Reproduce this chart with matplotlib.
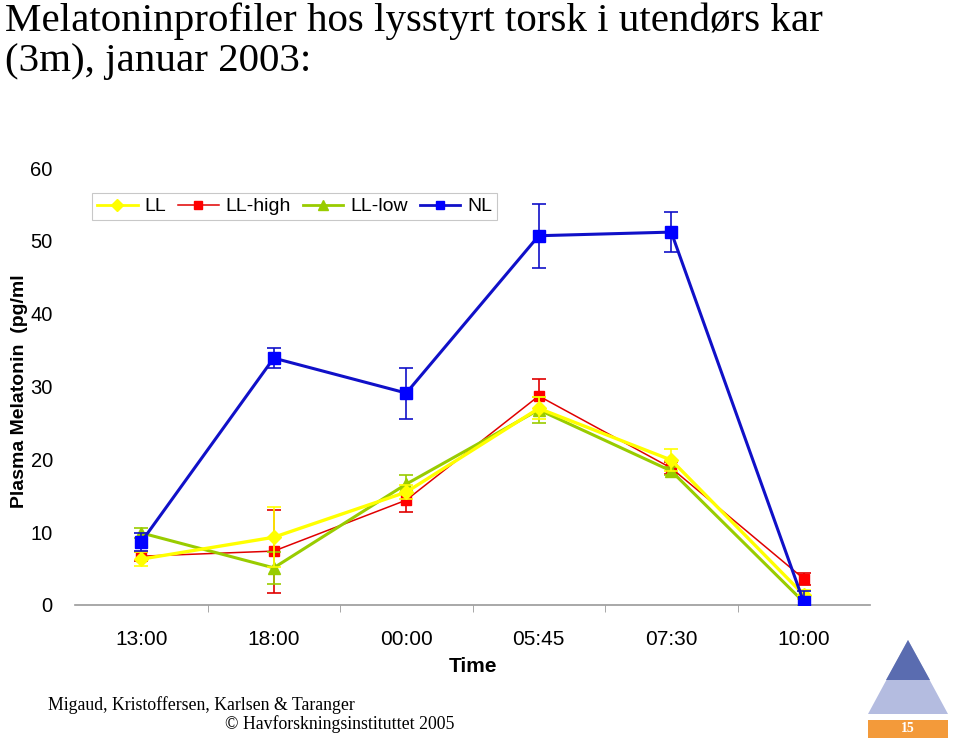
import matplotlib
matplotlib.use("Agg")
import matplotlib.pyplot as plt
import numpy as np
from matplotlib.patches import Polygon, Rectangle
from matplotlib.lines import Line2D

categories = ["13:00", "18:00", "00:00", "05:45", "07:30", "10:00"]
ll = [6.3, 9.3, 15.5, 27.0, 19.9, 1.4]
ll_err = [1.0, 4.1, 1.0, 1.5, 1.5, 0.6]
ll_high = [6.7, 7.4, 14.4, 28.7, 18.8, 3.6]
ll_high_err = [0.6, 5.7, 1.6, 2.3, 0.8, 0.8]
ll_low = [9.9, 5.1, 16.6, 26.8, 18.4, 0.4]
ll_low_err = [0.7, 2.2, 1.3, 1.8, 0.5, 0.5]
nl = [8.65, 33.9, 29.1, 50.7, 51.2, 0.4]
nl_err = [1.2, 1.4, 3.5, 4.4, 2.8, 1.5]
yticks = [0, 10, 20, 30, 40, 50, 60]

fig = plt.figure(figsize=(9.6, 7.44), dpi=100)
ax = fig.add_axes([75/960, 1-605/744, 795/960, 437/744])
x = np.arange(len(categories))

sans = "Liberation Sans"
serif = "Liberation Serif"

ax.errorbar(x, ll_high, yerr=ll_high_err, color="#E00000", lw=1.1, marker="s", ms=7,
            mfc="#FF0000", mec="#FF0000", capsize=5, elinewidth=1.2, capthick=1.2,
            label="LL-high", zorder=3)
ax.errorbar(x, ll_low, yerr=ll_low_err, color="#99CC00", lw=2.2, marker="^", ms=9,
            mfc="#99CC00", mec="#99CC00", capsize=5, elinewidth=1.2, capthick=1.2,
            label="LL-low", zorder=4)
ax.errorbar(x, ll, yerr=ll_err, color="#FFFF00", lw=2.4, marker="D", ms=7,
            mfc="#FFFF00", mec="#FFFF00", capsize=5, elinewidth=1.2, capthick=1.2,
            label="LL", zorder=5)
ax.errorbar(x, nl, yerr=nl_err, color="#1010C8", lw=2.2, marker="s", ms=9,
            mfc="#0000FF", mec="#0000FF", capsize=5, elinewidth=1.2, capthick=1.2,
            label="NL", zorder=6)

ax.set_xlim(-0.5, len(categories) - 0.5)
ax.set_ylim(0, 60)
ax.set_yticks(yticks)
ax.set_yticklabels([str(v) for v in yticks], fontsize=14.5, fontfamily=sans)
ax.tick_params(axis="y", length=0, pad=16)
ax.set_xticks(x)
ax.set_xticklabels(categories, fontsize=15, fontfamily=sans)
ax.tick_params(axis="x", length=0, pad=18)
ax.set_xticks(np.arange(0.5, len(categories) - 1, 1), minor=True)
ax.tick_params(axis="x", which="minor", length=5, color="#999999", direction="out")
for s in ["top", "right", "left"]:
    ax.spines[s].set_visible(False)
ax.spines["bottom"].set_color("#999999")
ax.spines["bottom"].set_linewidth(1.2)

hl = [
    Line2D([], [], color="#FFFF00", lw=2, marker="D", ms=6, mfc="#FFFF00", mec="#FFFF00"),
    Line2D([], [], color="#E00000", lw=1.1, marker="s", ms=6, mfc="#FF0000", mec="#FF0000"),
    Line2D([], [], color="#99CC00", lw=2, marker="^", ms=7, mfc="#99CC00", mec="#99CC00"),
    Line2D([], [], color="#1010C8", lw=2, marker="s", ms=6, mfc="#0000FF", mec="#0000FF"),
]
leg = ax.legend(hl, ["LL", "LL-high", "LL-low", "NL"], ncol=4, loc="upper left",
                bbox_to_anchor=(17/795, 1-25/437), borderaxespad=0, frameon=True,
                fancybox=False, prop={"family": sans, "size": 14}, handlelength=2.1,
                handletextpad=0.35, columnspacing=0.6, borderpad=0.25)
leg.get_frame().set_edgecolor("#BBBBBB")
leg.get_frame().set_linewidth(0.8)

fig.text(5/960, 1-2/744, "Melatoninprofiler hos lysstyrt torsk i utendørs kar\n(3m), januar 2003:",
         ha="left", va="top", fontsize=29.5, fontfamily=serif, linespacing=1.12)
fig.text(20/960, 1-391/744, "Plasma Melatonin  (pg/ml", rotation=90, ha="center", va="center",
         fontsize=14, fontweight="bold", fontfamily=sans)
fig.text(473/960, 1-667/744, "Time", ha="center", va="center", fontsize=15,
         fontweight="bold", fontfamily=sans)
fig.text(48/960, 1-705/744, "Migaud, Kristoffersen, Karlsen & Taranger", ha="left", va="center",
         fontsize=12.8, fontfamily=serif)
fig.text(225/960, 1-724/744, "© Havforskningsinstituttet 2005", ha="left", va="center",
         fontsize=12.8, fontfamily=serif)

# simple logo
lax = fig.add_axes([858/960, 0, 100/960, 124/744])
lax.set_xlim(0, 100)
lax.set_ylim(0, 124)
lax.axis("off")
lax.add_patch(Polygon([[10, 30], [90, 30], [50, 104]], closed=True, fc="#B4BCE0", ec="none"))
lax.add_patch(Polygon([[28, 64], [72, 64], [50, 104]], closed=True, fc="#5A6CB0", ec="none"))
lax.add_patch(Rectangle((10, 6), 80, 18, fc="#F39A3A", ec="none"))
lax.text(50, 15, "15", ha="center", va="center", color="white", fontsize=10,
         fontweight="bold", fontfamily=serif)

fig.savefig("out.png", dpi=100)
